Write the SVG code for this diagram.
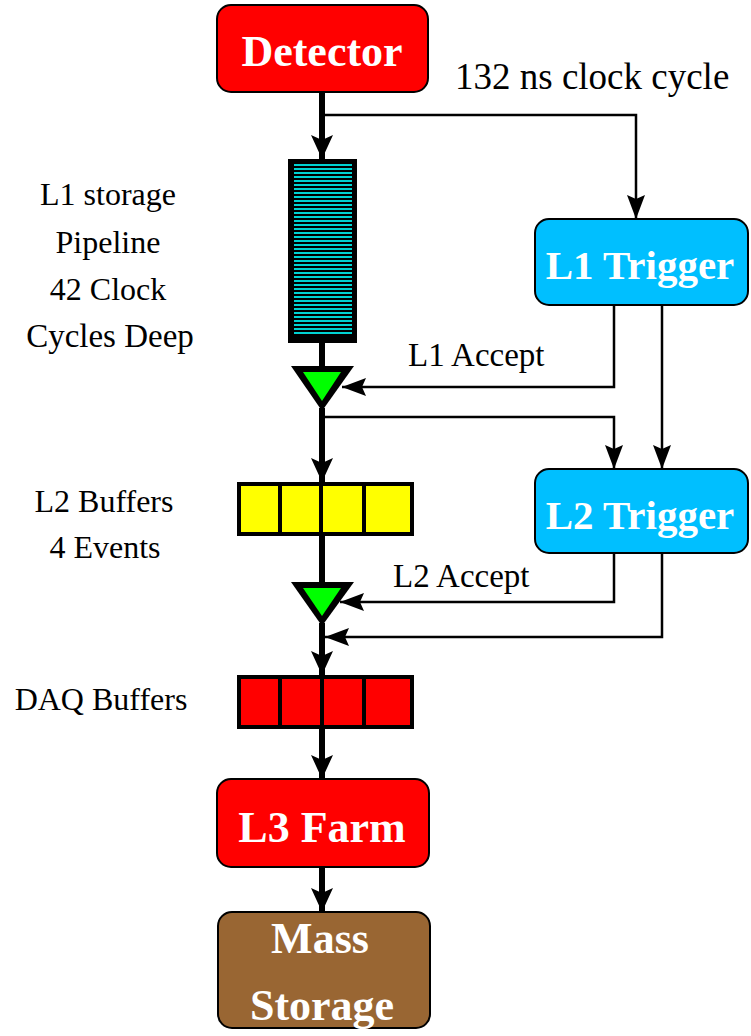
<svg xmlns="http://www.w3.org/2000/svg" width="751" height="1036" viewBox="0 0 751 1036">
  <style>
    .box { stroke: #000; stroke-width: 2; }
    .title { font-family: "Liberation Serif", "Times New Roman", serif; font-weight: bold; fill: #fff; text-anchor: middle; }
    .label { font-family: "Liberation Serif", "Times New Roman", serif; fill: #000; }
    .thick { stroke: #000; stroke-width: 6; fill: none; }
    .thin { stroke: #000; stroke-width: 2.5; fill: none; }
    .cell { stroke: #000; stroke-width: 4; }
  </style>
  <defs>
    <marker id="headThick" markerUnits="userSpaceOnUse" markerWidth="24" markerHeight="26" refX="24" refY="11" orient="auto">
      <path d="M0,0 L5,11 L0,22 L24,11 Z" fill="#000"/>
    </marker>
    <marker id="headThin" markerUnits="userSpaceOnUse" markerWidth="24" markerHeight="20" refX="24" refY="9" orient="auto">
      <path d="M0,0 L4,9 L0,18 L24,9 Z" fill="#000"/>
    </marker>
    <pattern id="stripes" patternUnits="userSpaceOnUse" x="0" y="163" width="10" height="4">
      <rect x="0" y="0" width="10" height="4" fill="#000"/>
      <rect x="0" y="1" width="10" height="2" fill="#00d2d2"/>
    </pattern>
  </defs>

  <!-- connectors -->
  <g id="connectors">
    <!-- main data path -->
    <line class="thick" x1="322" y1="92" x2="322" y2="159" marker-end="url(#headThick)"/>
    <line class="thick" x1="322" y1="343" x2="322" y2="368"/>
    <line class="thick" x1="322" y1="408" x2="322" y2="482" marker-end="url(#headThick)"/>
    <line class="thick" x1="322" y1="536" x2="322" y2="584"/>
    <line class="thick" x1="322" y1="623" x2="322" y2="675" marker-end="url(#headThick)"/>
    <line class="thick" x1="322" y1="729" x2="322" y2="779" marker-end="url(#headThick)"/>
    <line class="thick" x1="322" y1="867" x2="322" y2="912" marker-end="url(#headThick)"/>
    <!-- clock to L1 trigger -->
    <polyline class="thin" points="322,115 636,115 636,219" marker-end="url(#headThin)"/>
    <!-- L1 accept back to gate -->
    <polyline class="thin" points="614,305 614,387 342,387" marker-end="url(#headThin)"/>
    <!-- L1 trigger to L2 trigger -->
    <polyline class="thin" points="662,305 662,469" marker-end="url(#headThin)"/>
    <!-- accepted data to L2 trigger -->
    <polyline class="thin" points="322,417 614,417 614,469" marker-end="url(#headThin)"/>
    <!-- L2 accept back to gate -->
    <polyline class="thin" points="614,553 614,602 340,602" marker-end="url(#headThin)"/>
    <polyline class="thin" points="662,553 662,637 325,637" marker-end="url(#headThin)"/>
  </g>

  <g id="detector">
    <rect class="box" x="217" y="5" width="211" height="87" rx="14" fill="#ff0000"/>
    <text class="title" x="322" y="66" font-size="44">Detector</text>
  </g>

  <g id="clock-label">
    <text class="label" x="455" y="89" font-size="37">132 ns clock cycle</text>
  </g>

  <g id="pipeline">
    <rect x="288" y="159" width="69" height="184" fill="#000"/>
    <rect x="294" y="163" width="58" height="172" fill="url(#stripes)"/>
    <text class="label" text-anchor="middle" x="108" y="205" font-size="32">L1 storage</text>
    <text class="label" text-anchor="middle" x="108" y="253" font-size="32">Pipeline</text>
    <text class="label" text-anchor="middle" x="108" y="300" font-size="32">42 Clock</text>
    <text class="label" text-anchor="middle" x="110" y="347" font-size="33">Cycles Deep</text>
  </g>

  <g id="l1-trigger">
    <rect class="box" x="535" y="219" width="213" height="86" rx="14" fill="#00bfff"/>
    <text class="title" x="640" y="279" font-size="41">L1 Trigger</text>
  </g>

  <g id="l1-gate">
    <polygon points="291,366 354,366 322,411" fill="#000"/>
    <polygon points="303,372 341,372 322,401" fill="#00ff00"/>
    <text class="label" x="408" y="366" font-size="33">L1 Accept</text>
  </g>

  <g id="l2-buffers">
    <rect class="cell" x="239" y="484" width="173" height="50" fill="#ffff00"/>
    <line class="cell" x1="280" y1="484" x2="280" y2="534"/>
    <line class="cell" x1="321" y1="484" x2="321" y2="534"/>
    <line class="cell" x1="364" y1="484" x2="364" y2="534"/>
    <text class="label" text-anchor="middle" x="104" y="512" font-size="32">L2 Buffers</text>
    <text class="label" text-anchor="middle" x="105" y="558" font-size="32">4 Events</text>
  </g>

  <g id="l2-trigger">
    <rect class="box" x="535" y="469" width="213" height="84" rx="14" fill="#00bfff"/>
    <text class="title" x="640" y="529" font-size="41">L2 Trigger</text>
  </g>

  <g id="l2-gate">
    <polygon points="291,582 354,582 322,626" fill="#000"/>
    <polygon points="303,588 341,588 322,616" fill="#00ff00"/>
    <text class="label" x="393" y="587" font-size="33">L2 Accept</text>
  </g>

  <g id="daq-buffers">
    <rect class="cell" x="239" y="677" width="173" height="50" fill="#ff0000"/>
    <line class="cell" x1="280" y1="677" x2="280" y2="727"/>
    <line class="cell" x1="322" y1="677" x2="322" y2="727"/>
    <line class="cell" x1="364" y1="677" x2="364" y2="727"/>
    <text class="label" text-anchor="middle" x="101" y="710" font-size="32">DAQ Buffers</text>
  </g>

  <g id="l3-farm">
    <rect class="box" x="217" y="779" width="212" height="88" rx="14" fill="#ff0000"/>
    <text class="title" x="322" y="842" font-size="44">L3 Farm</text>
  </g>

  <g id="mass-storage">
    <rect class="box" x="218" y="912" width="212" height="116" rx="14" fill="#996633"/>
    <text class="title" x="320" y="953" font-size="44">Mass</text>
    <text class="title" x="322" y="1020" font-size="44">Storage</text>
  </g>
</svg>
